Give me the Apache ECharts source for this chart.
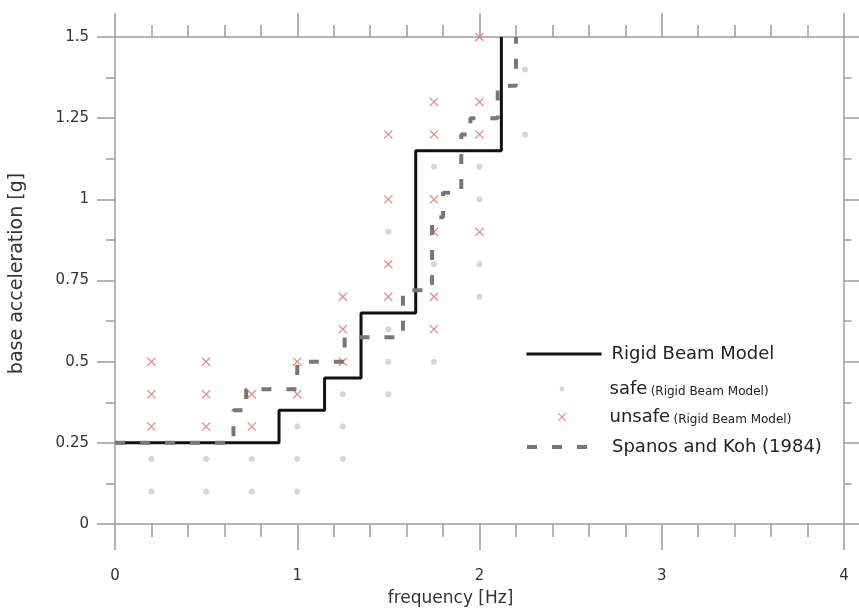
<!DOCTYPE html>
<html>
<head>
<meta charset="utf-8">
<script src="https://cdn.jsdelivr.net/npm/echarts@6/dist/echarts.min.js"></script>
<style>
  html, body { margin: 0; padding: 0; background: #fff; }
  #chart { width: 859px; height: 610px; }
</style>
</head>
<body>
<div id="chart"></div>
<script>
// step points [frequency, acceleration], step drawn horizontal first
const rigidBeam = [[0, 0.25], [0.9, 0.35], [1.15, 0.45], [1.35, 0.65], [1.65, 1.15], [2.12, 1.5]]
const spanosKoh = [[0, 0.25], [0.65, 0.35], [0.72, 0.415], [1.0, 0.5], [1.26, 0.575], [1.58, 0.72],
  [1.74, 0.945], [1.8, 1.02], [1.9, 1.2], [1.95, 1.25], [2.1, 1.35], [2.2, 1.5]]

// test points
const safePoints = [
  [0.2, 0.2], [0.2, 0.1],
  [0.5, 0.2], [0.5, 0.1],
  [0.75, 0.2], [0.75, 0.1],
  [1.0, 0.3], [1.0, 0.2], [1.0, 0.1],
  [1.25, 0.4], [1.25, 0.3], [1.25, 0.2],
  [1.5, 0.9], [1.5, 0.6], [1.5, 0.5], [1.5, 0.4],
  [1.75, 1.1], [1.75, 0.8], [1.75, 0.5],
  [2.0, 1.1], [2.0, 1.0], [2.0, 0.8], [2.0, 0.7],
  [2.25, 1.4], [2.25, 1.2]
]
const unsafePoints = [
  [0.2, 0.5], [0.2, 0.4], [0.2, 0.3],
  [0.5, 0.5], [0.5, 0.4], [0.5, 0.3],
  [0.75, 0.4], [0.75, 0.3],
  [1.0, 0.5], [1.0, 0.4],
  [1.25, 0.7], [1.25, 0.6], [1.25, 0.5],
  [1.5, 1.2], [1.5, 1.0], [1.5, 0.8], [1.5, 0.7],
  [1.75, 1.3], [1.75, 1.2], [1.75, 1.0], [1.75, 0.9], [1.75, 0.7], [1.75, 0.6],
  [2.0, 1.5], [2.0, 1.3], [2.0, 1.2], [2.0, 0.9]
]

const font = 'DejaVu Sans'
const axisColor = '#9c9c9c'
const crossPath = 'path://M0,1L1,0L5,4L9,0L10,1L6,5L10,9L9,10L5,6L1,10L0,9L4,5Z'
const lineStyle = { color: axisColor, width: 1.5 }

function makeAxis (opt) {
  return Object.assign({
    type: 'value',
    axisLine: { show: true, onZero: false, lineStyle: lineStyle },
    axisTick: { show: true, inside: false, length: opt.tick, lineStyle: lineStyle },
    minorTick: { show: true, splitNumber: opt.minor, length: opt.tick / 2, lineStyle: lineStyle },
    splitLine: { show: false },
    minorSplitLine: { show: false },
    axisLabel: { show: false }
  }, opt.extra)
}

const labelStyle = { fontFamily: font, fontSize: 15, color: '#333' }

// legend box starts at the icon's own left edge, so small icons need their own left
function legendRow (name, left, top, itemHeight, formatter, width) {
  let row = {
    data: [name],
    left: left,
    top: top,
    padding: 0,
    itemWidth: 75,
    itemHeight: itemHeight,
    selectedMode: false,
    formatter: formatter,
    textStyle: {
      rich: {
        a: { fontFamily: font, fontSize: 18, color: '#222', lineHeight: 20, padding: [0, 0, 0, 5] },
        b: { fontFamily: font, fontSize: 12, color: '#222', lineHeight: 20, verticalAlign: 'bottom', padding: [0, 0, 1, 0] }
      }
    }
  }
  if (width) {
    row.lineStyle = { width: width }
    row.itemStyle = { opacity: 0 }
  }
  return row
}

const chart = echarts.init(document.getElementById('chart'))
chart.setOption({
  animation: false,
  backgroundColor: '#fff',
  grid: { left: 115, right: 15, top: 37, bottom: 86, containLabel: false, outerBoundsMode: 'none' },
  xAxis: [
    makeAxis({ tick: 26, minor: 5, extra: {
      position: 'bottom', min: 0, max: 4, interval: 1,
      axisLabel: Object.assign({ show: true, margin: 45 }, labelStyle),
      name: 'frequency [Hz]', nameLocation: 'middle', nameGap: 66,
      nameTextStyle: { fontFamily: font, fontSize: 17, color: '#333', padding: [0, 58, 0, 0] }
    } }),
    makeAxis({ tick: 24, minor: 5, extra: { position: 'top', min: 0, max: 4, interval: 1 } })
  ],
  yAxis: [
    makeAxis({ tick: 18, minor: 2, extra: {
      position: 'left', min: 0, max: 1.5, interval: 0.25,
      axisLabel: Object.assign({ show: true, margin: 26 }, labelStyle),
      name: 'base acceleration [g]', nameLocation: 'middle', nameGap: 88,
      nameTextStyle: { fontFamily: font, fontSize: 19, color: '#333', padding: [0, 0, 0, 14] }
    } }),
    makeAxis({ tick: 15, minor: 2, extra: { position: 'right', min: 0, max: 1.5, interval: 0.25 } })
  ],
  legend: [
    legendRow('Rigid Beam Model', 525, 345, 14, '{a|Rigid Beam Model}', 3),
    legendRow('safe', 559.5, 380, 5, '{a|safe} {b|(Rigid Beam Model)}'),
    legendRow('unsafe', 558, 408, 8, '{a|unsafe} {b|(Rigid Beam Model)}'),
    legendRow('Spanos and Koh (1984)', 525, 438, 14, '{a|Spanos and Koh (1984)}', 4)
  ],
  series: [
    {
      name: 'safe',
      type: 'scatter',
      data: safePoints,
      symbol: 'circle',
      symbolSize: 6,
      itemStyle: { color: '#c9cec9' }
    },
    {
      name: 'unsafe',
      type: 'scatter',
      data: unsafePoints,
      symbol: crossPath,
      symbolSize: 9,
      itemStyle: { color: '#e36a6a' }
    },
    {
      name: 'Rigid Beam Model',
      type: 'line',
      step: 'end',
      data: rigidBeam,
      symbol: 'none',
      lineStyle: { color: '#111', width: 3 }
    },
    {
      name: 'Spanos and Koh (1984)',
      type: 'line',
      step: 'end',
      data: spanosKoh,
      symbol: 'none',
      lineStyle: { color: '#777', width: 4, type: [10, 15] }
    }
  ]
})
</script>
</body>
</html>
